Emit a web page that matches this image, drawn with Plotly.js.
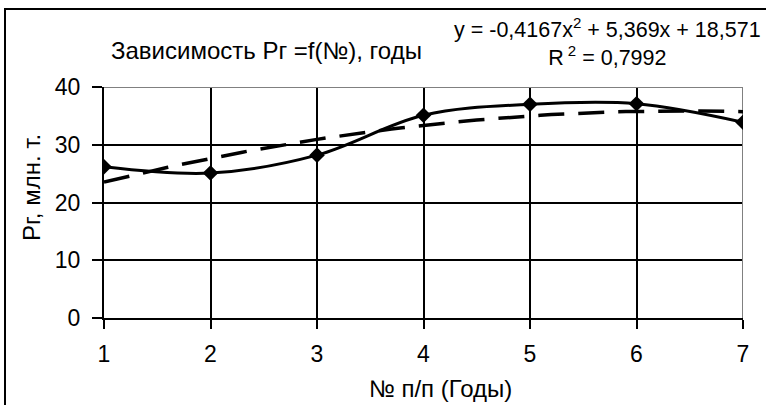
<!DOCTYPE html>
<html>
<head>
<meta charset="utf-8">
<script src="https://cdn.plot.ly/plotly-3.0.1.min.js"></script>
<style>
html,body{margin:0;padding:0;background:#fff;overflow:hidden;}
#wrap{position:relative;width:766px;height:405px;}
#chart{width:766px;height:405px;}
#frame{position:absolute;left:4px;top:8px;width:820px;height:460px;border:2px solid #000;pointer-events:none;}
</style>
</head>
<body>
<div id="wrap"><div id="chart"></div><div id="frame"></div></div>
<script>
// Data
const years = [1, 2, 3, 4, 5, 6, 7];
const pr = [26.2, 25.1, 28.2, 35.1, 37.0, 37.1, 33.9];
const xTicks = [1, 2, 3, 4, 5, 6, 7];
const yTicks = [0, 10, 20, 30, 40];
// Printed polynomial trendline coefficients: y = a x^2 + b x + c
const trendCoef = [-0.4167, 5.369, 18.571];
const trendLabel = 'y = -0,4167x<sup>2</sup> + 5,369x + 18,571';
const r2Label = 'R<sup> 2</sup> = 0,7992';
const chartTitle = 'Зависимость Рг =f(№), годы';
const xTitle = '№ п/п (Годы)';
const yTitle = 'Рг, млн. т.';

// trendline sampled from the printed equation
const tx = [], ty = [];
for (let i = 0; i <= 60; i++) {
  const x = years[0] + (years[years.length - 1] - years[0]) * i / 60;
  tx.push(x);
  ty.push(trendCoef[0] * x * x + trendCoef[1] * x + trendCoef[2]);
}

const font = 'Liberation Sans, Arial, sans-serif';
const traces = [
  {x: tx, y: ty, mode: 'lines', line: {color: '#000', width: 3.5, dash: '26px,14px'}, hoverinfo: 'skip'},
  {x: years, y: pr, mode: 'lines+markers', line: {color: '#000', width: 3, shape: 'spline', smoothing: 1},
   marker: {symbol: 'diamond', size: 12, color: '#000'}}
];

const axisCommon = {
  showgrid: true, gridcolor: '#000', gridwidth: 2,
  showline: true, linecolor: '#000', linewidth: 2,
  ticks: 'outside', tickcolor: '#000', tickwidth: 2,
  zeroline: false, fixedrange: true,
  tickfont: {family: font, size: 23, color: '#000'}
};

const layout = {
  width: 766, height: 405,
  margin: {l: 104, r: 23, t: 87, b: 87},
  paper_bgcolor: '#fff', plot_bgcolor: '#fff',
  showlegend: false,
  font: {family: font, color: '#000'},
  xaxis: Object.assign({}, axisCommon, {range: [1, 7], tickvals: xTicks, ticklen: 9, ticklabelstandoff: 5}),
  yaxis: Object.assign({}, axisCommon, {range: [0, 40], tickvals: yTicks, ticklen: 10, ticklabelstandoff: 7}),
  shapes: [
    {type: 'line', xref: 'x', yref: 'y', x0: 1, x1: 7, y0: 40, y1: 40, line: {color: '#808080', width: 2}, layer: 'between'},
    {type: 'line', xref: 'x', yref: 'y', x0: 7, x1: 7, y0: 0, y1: 40, line: {color: '#808080', width: 2}, layer: 'between'}
  ],
  annotations: [
    {text: chartTitle, xref: 'paper', yref: 'paper', x: (266 - 104) / 639, y: 1 + (87 - 51) / 231,
     xanchor: 'center', yanchor: 'middle', showarrow: false, font: {family: font, size: 24, color: '#000'}},
    {text: trendLabel + '<br>' + r2Label, xref: 'paper', yref: 'paper', x: (607 - 104) / 639, y: 1 + (87 - 42) / 231,
     xanchor: 'center', yanchor: 'middle', align: 'center', showarrow: false,
     font: {family: font, size: 21.5, color: '#000'}},
    {text: xTitle, xref: 'paper', yref: 'paper', x: (440 - 104) / 639, y: -(388 - 318) / 231,
     xanchor: 'center', yanchor: 'middle', showarrow: false, font: {family: font, size: 24, color: '#000'}},
    {text: yTitle, xref: 'paper', yref: 'paper', x: -(104 - 31) / 639, y: (318 - 188) / 231,
     xanchor: 'center', yanchor: 'middle', textangle: -90, showarrow: false, font: {family: font, size: 24, color: '#000'}}
  ]
};

Plotly.newPlot('chart', traces, layout, {displayModeBar: false, staticPlot: true});
</script>
</body>
</html>
